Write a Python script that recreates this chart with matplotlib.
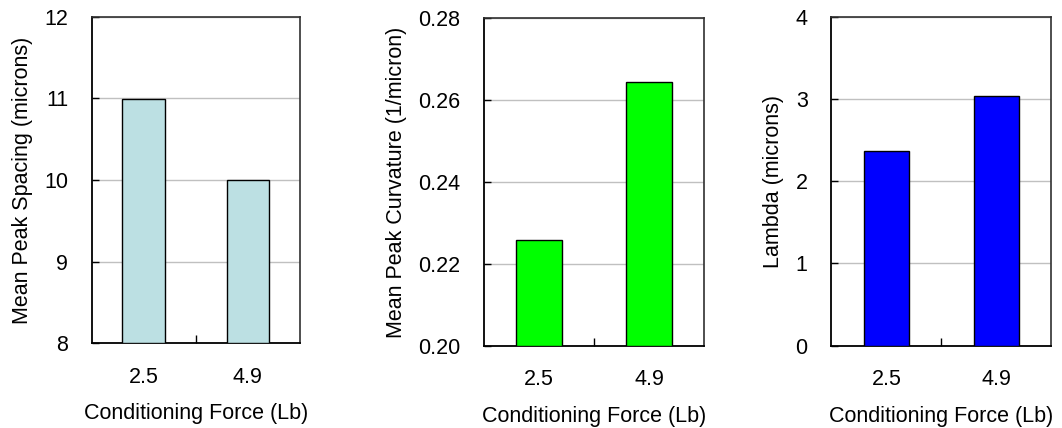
import matplotlib
matplotlib.use("Agg")
import matplotlib.pyplot as plt
from matplotlib.ticker import FixedLocator

plt.rcParams['font.family'] = ['Liberation Sans', 'DejaVu Sans']

# Conditioning force levels (Lb)
forces = ['2.5', '4.9']

# Surface measurements at each force
peak_spacing = [10.99, 10.00]      # microns
peak_curvature = [0.2258, 0.2645]  # 1/micron
lambda_vals = [2.37, 3.03]         # microns

panels = [
    dict(vals=peak_spacing, color='#bce0e3', ylabel='Mean Peak Spacing (microns)',
         ylim=(8, 12), yticks=[8, 9, 10, 11, 12], fmt='{:.0f}',
         rect=[0.0863, 0.198, 0.1962, 0.763]),
    dict(vals=peak_curvature, color='#00ff00', ylabel='Mean Peak Curvature (1/micron)',
         ylim=(0.20, 0.28), yticks=[0.20, 0.22, 0.24, 0.26, 0.28], fmt='{:.2f}',
         rect=[0.4557, 0.1923, 0.2072, 0.765]),
    dict(vals=lambda_vals, color='#0000ff', ylabel='Lambda (microns)',
         ylim=(0, 4), yticks=[0, 1, 2, 3, 4], fmt='{:.0f}',
         rect=[0.7828, 0.1923, 0.2072, 0.7687]),
]

fs = 15.5

fig = plt.figure(figsize=(10.62, 4.28), dpi=100)

for p in panels:
    ax = fig.add_axes(p['rect'])
    x = range(len(forces))
    lo = p['ylim'][0]
    heights = [v - lo for v in p['vals']]
    ax.bar(x, heights, width=0.41, bottom=lo, color=p['color'],
           edgecolor='black', linewidth=1.0, zorder=3)
    ax.set_xlim(-0.5, 1.5)
    ax.set_ylim(*p['ylim'])
    ax.set_yticks(p['yticks'])
    ax.set_yticklabels([p['fmt'].format(t) for t in p['yticks']])
    ax.set_xticks(list(x))
    ax.set_xticklabels(forces)
    ax.xaxis.set_minor_locator(FixedLocator([0.5]))
    ax.tick_params(axis='x', which='major', length=0, pad=17, labelsize=fs)
    ax.tick_params(axis='x', which='minor', direction='in', length=6, width=1, color='black')
    ax.tick_params(axis='y', direction='in', length=5, width=1, color='black', pad=17, labelsize=fs)
    ax.yaxis.grid(True, color='#c0c0c0', linewidth=1.0, zorder=0)
    ax.set_axisbelow(True)
    for side in ['left', 'bottom']:
        ax.spines[side].set_linewidth(1.3)
        ax.spines[side].set_color('black')
    for side in ['top', 'right']:
        ax.spines[side].set_linewidth(1.2)
        ax.spines[side].set_color('#303030')
    ax.set_ylabel(p['ylabel'], fontsize=fs, labelpad=8)
    ax.set_xlabel('Conditioning Force (Lb)', fontsize=fs, labelpad=11)

fig.savefig('out.png', dpi=100)
